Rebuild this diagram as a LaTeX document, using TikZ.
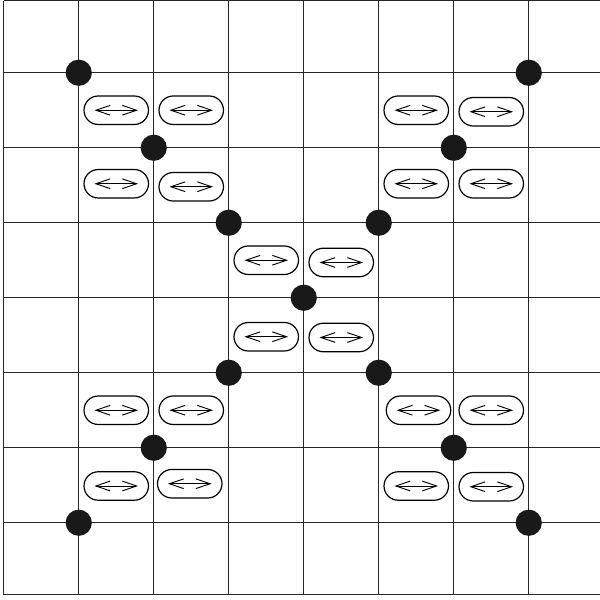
\documentclass[tikz,border=0pt]{standalone}
\usetikzlibrary{arrows.meta, shapes.misc}

\tikzset{
  gridline/.style={line width=0.55pt, black!85},
  pivot/.style={circle, fill=black!90, inner sep=0pt, minimum size=0.35cm},
  swapbox/.style={rounded rectangle, draw, line width=0.45pt,
    minimum width=0.86cm, minimum height=0.38cm, inner sep=0pt,
    path picture={\draw[line width=0.35pt, {Straight Barb[length=1.9mm, width=1.3mm]}-{Straight Barb[length=1.9mm, width=1.3mm]}]
      ([xshift=-2.9mm]path picture bounding box.center) -- ([xshift=2.9mm]path picture bounding box.center);}}
}

\begin{document}
\begin{tikzpicture}
  \useasboundingbox (-0.05,-0.03) rectangle (7.95,7.97);

  % grid
  \draw[gridline] (0,0.04) -- (0,7.96);
  \draw[gridline] (0,0.04) -- (8,0.04);
  \draw[gridline] (0,7.96) -- (8,7.96);
  \foreach \k in {1,...,7} {
    \draw[gridline] (\k,0.04) -- (\k,7.96);
    \draw[gridline] (0,\k) -- (8,\k);
  }

  % pivots
  \node[pivot] (p17) at (1,7) {};
  \node[pivot] (p26) at (2,6) {};
  \node[pivot] (p35) at (3,5) {};
  \node[pivot] (p44) at (4,4) {};
  \node[pivot] (p55) at (5,5) {};
  \node[pivot] (p66) at (6,6) {};
  \node[pivot] (p77) at (7,7) {};
  \node[pivot] (p33) at (3,3) {};
  \node[pivot] (p22) at (2,2) {};
  \node[pivot] (p11) at (1,1) {};
  \node[pivot] (p53) at (5,3) {};
  \node[pivot] (p62) at (6,2) {};
  \node[pivot] (p71) at (7,1) {};

  % swaps, upper part
  \node[swapbox] (s1a) at (1.5,6.5) {};
  \node[swapbox] (s1b) at (2.5,6.5) {};
  \node[swapbox] (s1c) at (5.5,6.5) {};
  \node[swapbox] (s1d) at (6.5,6.48) {};
  \node[swapbox] (s2a) at (1.5,5.52) {};
  \node[swapbox] (s2b) at (2.5,5.48) {};
  \node[swapbox] (s2c) at (5.5,5.52) {};
  \node[swapbox] (s2d) at (6.5,5.52) {};

  % swaps, centre
  \node[swapbox] (s3a) at (3.5,4.5) {};
  \node[swapbox] (s3b) at (4.5,4.47) {};
  \node[swapbox] (s4a) at (3.5,3.48) {};
  \node[swapbox] (s4b) at (4.5,3.47) {};

  % swaps, lower part
  \node[swapbox] (s5a) at (1.5,2.5) {};
  \node[swapbox] (s5b) at (2.5,2.5) {};
  \node[swapbox] (s5c) at (5.53,2.5) {};
  \node[swapbox] (s5d) at (6.5,2.5) {};
  \node[swapbox] (s6a) at (1.5,1.49) {};
  \node[swapbox] (s6b) at (2.48,1.52) {};
  \node[swapbox] (s6c) at (5.5,1.49) {};
  \node[swapbox] (s6d) at (6.5,1.48) {};
\end{tikzpicture}
\end{document}
